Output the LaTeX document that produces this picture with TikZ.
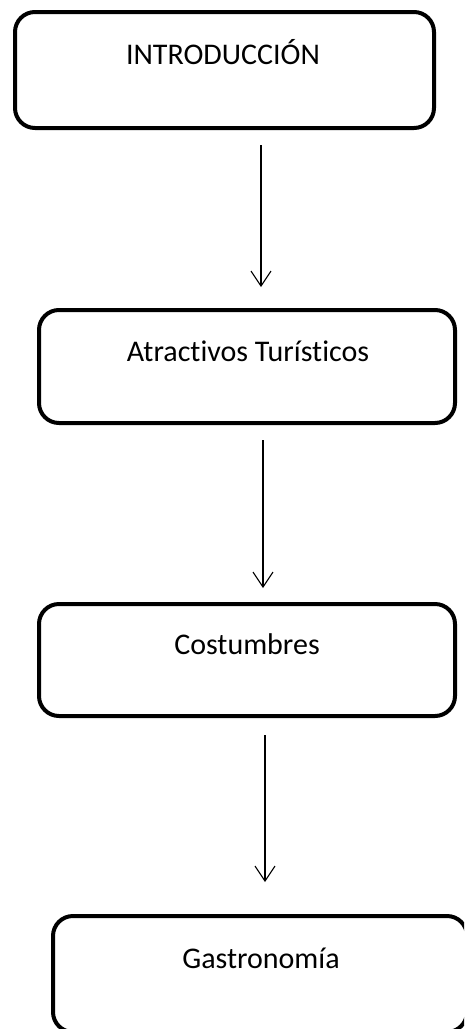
\documentclass[tikz,border=0pt]{standalone}
\usepackage{fontspec}
\setmainfont[Ligatures=NoCommon]{Carlito}
\usetikzlibrary{arrows.meta}
\begin{document}
\begin{tikzpicture}[x=1pt,y=-1pt,
  box/.style={draw=black,line width=4pt,rounded corners=20pt,fill=none},
  lbl/.style={font=\fontsize{30}{34}\selectfont,inner sep=0pt,anchor=base},
  conn/.style={draw=black,line width=1.1pt,-{Straight Barb[length=15pt,width=20pt,line width=1.1pt]}}]
\useasboundingbox (0,0) rectangle (464,1029);
\begin{scope}
\clip (0,0) rectangle (464,1029);
\draw[box] (15,12) rectangle (434,128);
\node[inner sep=0pt] (b1) at (224.5,70) {};
\draw[box] (39,310) rectangle (455,423);
\node[inner sep=0pt] (b2) at (247,366) {};
\draw[box] (39,604) rectangle (455,716);
\node[inner sep=0pt] (b3) at (247,660) {};
\draw[box] (53,916) rectangle (467,1032);
\node[inner sep=0pt] (b4) at (261,974) {};
\end{scope}
\node[lbl] (t1) at (223,64) {INTRODUCCIÓN};
\node[lbl] (t2) at (248,361) {Atractivos Turísticos};
\node[lbl] (t3) at (247,654) {Costumbres};
\node[lbl] (t4) at (261,968) {Gastronomía};
\coordinate (a1s) at (261,145);
\coordinate (a1e) at (261,287);
\coordinate (a2s) at (263,440);
\coordinate (a2e) at (263,588);
\coordinate (a3s) at (265,735);
\coordinate (a3e) at (265,882);
\draw[conn] (a1s) -- (a1e);
\draw[conn] (a2s) -- (a2e);
\draw[conn] (a3s) -- (a3e);
\end{tikzpicture}
\end{document}
